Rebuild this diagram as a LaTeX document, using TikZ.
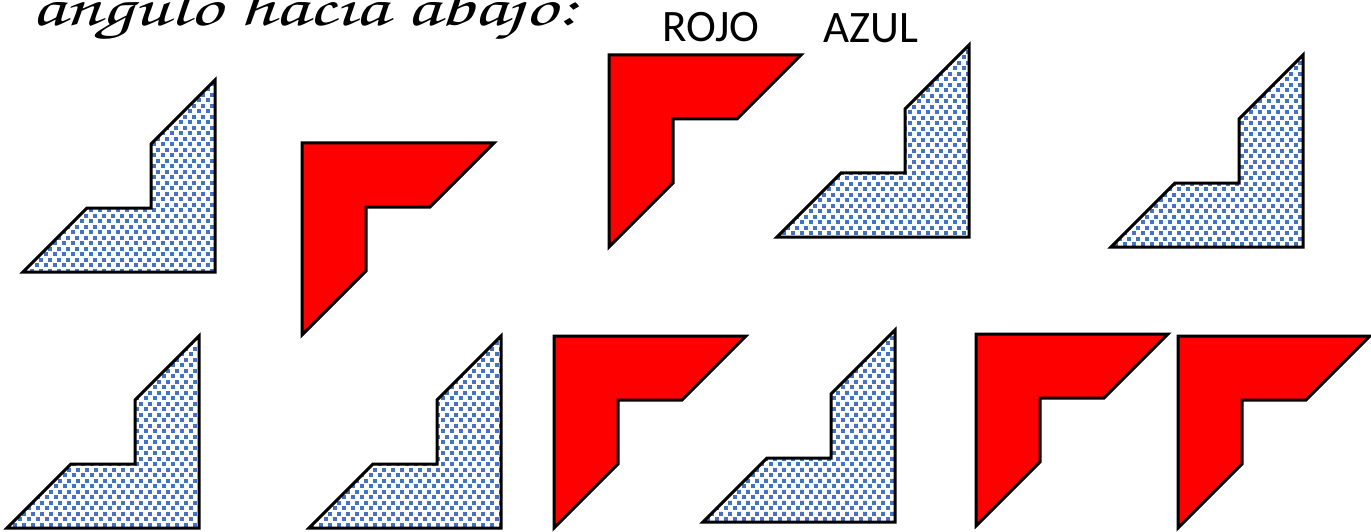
\documentclass[tikz,border=0pt]{standalone}
\usepackage{fontspec}
\usetikzlibrary{patterns}
\newfontfamily\labelfont{Carlito}
\newfontfamily\titlefont{texgyrechorus-mediumitalic}[Extension=.otf]
\definecolor{R1}{RGB}{255,0,0}
\definecolor{C1}{RGB}{68,114,196}
\pgfdeclarepatternformonly{bluedots}{\pgfpointorigin}{\pgfqpoint{8.5pt}{10.6pt}}{\pgfqpoint{8.5pt}{10.6pt}}{%
  \pgfpathrectangle{\pgfqpoint{0pt}{0pt}}{\pgfqpoint{4pt}{4pt}}%
  \pgfpathrectangle{\pgfqpoint{4.25pt}{5.3pt}}{\pgfqpoint{4pt}{4pt}}%
  \pgfusepath{fill}}
\tikzset{
  azul/.pic={\draw[line width=3pt, pattern=bluedots, pattern color=C1] (0,192) -- (192,192) -- (192,0) -- (128,64) -- (128,128) -- (64,128) -- cycle;},
  rojo/.pic={\draw[line width=3pt, fill=R1] (0,0) -- (192,0) -- (128,64) -- (64,64) -- (64,128) -- (0,192) -- cycle;}
}

\begin{document}
\begin{tikzpicture}[x=1pt, y=-1pt]
      \useasboundingbox (0,0) rectangle (1371,532);
      \node[anchor=base west, inner sep=0pt, xscale=1.43, font=\titlefont\fontsize{56}{60}\selectfont] (title) at (31,26) {angulo hacia abajo:};
      \node[anchor=base, inner sep=0pt, font=\labelfont\fontsize{45}{54}\selectfont] (rojo) at (711,42) {ROJO};
      \node[anchor=base, inner sep=0pt, font=\labelfont\fontsize{45}{54}\selectfont] (azul) at (871,43) {AZUL};
      \pic at (23,80) {azul};
      \pic at (302,143) {rojo};
      \pic at (609,55) {rojo};
      \pic at (777,45) {azul};
      \pic at (1111,55) {azul};
      \pic at (7,336) {azul};
      \pic at (309,336) {azul};
      \pic at (554,336) {rojo};
      \pic at (703,330) {azul};
      \pic at (976,334) {rojo};
      \pic at (1178,336) {rojo};
\end{tikzpicture}
\end{document}
